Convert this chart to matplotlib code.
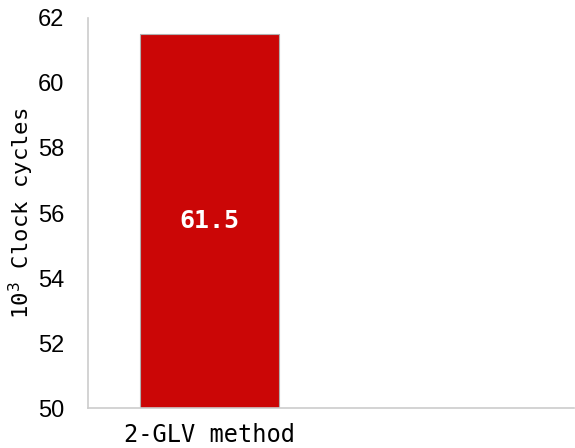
import numpy as np
import matplotlib.pyplot as plt

methods = ['2-GLV method', '']
cycles = [61.5, np.nan]

fig = plt.figure(figsize=(5.75, 4.48), dpi=100)
ax = fig.add_axes([0.153, 0.089, 0.845, 0.871])

x = np.arange(len(methods))
bars = ax.bar(x, cycles, width=0.575, bottom=0, color='#cb0606',
              edgecolor='#b0b0b0', linewidth=0.8)

# value label inside the bar
for xi, v in zip(x, cycles):
    if not np.isnan(v):
        ax.text(xi, (50 + v) / 2, f'{v}', ha='center', va='center',
                color='white', fontsize=18, fontweight='bold',
                family='DejaVu Sans Mono')

ax.set_ylim(50, 62)
ax.set_xlim(-0.5, 1.5)
ax.set_yticks(np.arange(50, 63, 2))
ax.set_xticks(x)
ax.set_xticklabels(methods, family='DejaVu Sans Mono', fontsize=17)
ax.set_yticklabels([str(t) for t in range(50, 63, 2)], family='Liberation Sans', fontsize=17)
ax.tick_params(axis='y', length=0, pad=17)
ax.tick_params(axis='x', length=0, pad=11)
ax.set_ylabel('10$^3$ Clock cycles', family='DejaVu Sans Mono', fontsize=16)
ax.yaxis.set_label_coords(-0.108, 0.5)

for s in ['top', 'right']:
    ax.spines[s].set_visible(False)
for s in ['left', 'bottom']:
    ax.spines[s].set_color('#cccccc')
    ax.spines[s].set_linewidth(1.2)

fig.savefig('out.png', dpi=100)
